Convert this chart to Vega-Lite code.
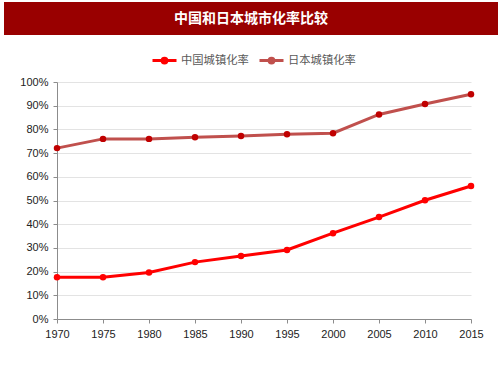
{
  "$schema": "https://vega.github.io/schema/vega-lite/v6.json",
  "padding": {"left": 4, "top": 2, "right": 5, "bottom": 5},
  "background": "white",
  "spacing": 12,
  "config": {
    "axis": {"labelFont": "Liberation Sans", "labelFontSize": 11, "labelColor": "#222222", "domainColor": "#8c8c8c", "tickColor": "#8c8c8c", "gridColor": "#e3e3e3", "title": null},
    "legend": {"labelFont": "Noto Sans CJK SC", "labelFontSize": 11.3, "labelColor": "#595959"}
  },
  "resolve": {"legend": {"color": "independent"}},
  "vconcat": [
    {
      "width": 494,
      "height": 33,
      "view": {"fill": "#990000", "stroke": null},
      "data": {"values": [{"t": "中国和日本城市化率比较"}]},
      "mark": {"type": "text", "color": "white", "fontSize": 14, "fontWeight": "bold", "font": "Noto Sans CJK SC", "baseline": "middle", "align": "center"},
      "encoding": {"text": {"field": "t"}}
    },
    {
      "resolve": {"legend": {"color": "independent"}},
      "spacing": 0,
      "hconcat": [
        {
          "width": 1,
          "height": 237,
          "view": {"stroke": null},
          "data": {"values": []},
          "mark": "point"
        },
        {
          "width": 414,
          "height": 237,
          "view": {"stroke": null},
          "data": {"values": [
            {"year": 1970, "series": "中国城镇化率", "rate": 17.6},
            {"year": 1975, "series": "中国城镇化率", "rate": 17.6},
            {"year": 1980, "series": "中国城镇化率", "rate": 19.6},
            {"year": 1985, "series": "中国城镇化率", "rate": 24.0},
            {"year": 1990, "series": "中国城镇化率", "rate": 26.6},
            {"year": 1995, "series": "中国城镇化率", "rate": 29.1},
            {"year": 2000, "series": "中国城镇化率", "rate": 36.2},
            {"year": 2005, "series": "中国城镇化率", "rate": 43.0},
            {"year": 2010, "series": "中国城镇化率", "rate": 50.1},
            {"year": 2015, "series": "中国城镇化率", "rate": 56.1},
            {"year": 1970, "series": "日本城镇化率", "rate": 72.1},
            {"year": 1975, "series": "日本城镇化率", "rate": 76.0},
            {"year": 1980, "series": "日本城镇化率", "rate": 76.0},
            {"year": 1985, "series": "日本城镇化率", "rate": 76.7},
            {"year": 1990, "series": "日本城镇化率", "rate": 77.2},
            {"year": 1995, "series": "日本城镇化率", "rate": 78.0},
            {"year": 2000, "series": "日本城镇化率", "rate": 78.4},
            {"year": 2005, "series": "日本城镇化率", "rate": 86.3},
            {"year": 2010, "series": "日本城镇化率", "rate": 90.7},
            {"year": 2015, "series": "日本城镇化率", "rate": 94.8}
          ]},
          "encoding": {
            "x": {"field": "year", "type": "quantitative", "scale": {"domain": [1970, 2015], "nice": false, "zero": false},
                  "axis": {"values": [1970, 1975, 1980, 1985, 1990, 1995, 2000, 2005, 2010, 2015], "format": "d", "grid": false, "tickSize": 4, "labelPadding": 5, "labelFlush": false}},
            "y": {"field": "rate", "type": "quantitative", "scale": {"domain": [0, 100], "nice": false},
                  "axis": {"values": [0, 10, 20, 30, 40, 50, 60, 70, 80, 90, 100], "labelExpr": "datum.value + '%'", "tickSize": 4, "labelPadding": 5, "minExtent": 52}}
          },
          "layer": [
            {
              "mark": {"type": "line", "strokeWidth": 3},
              "encoding": {
                "color": {"field": "series", "type": "nominal",
                          "scale": {"domain": ["中国城镇化率", "日本城镇化率"], "range": ["#ff0000", "#c0504d"]},
                          "legend": {"orient": "none", "legendX": 94, "legendY": -35, "direction": "horizontal", "title": null,
                                     "symbolType": "M-1,0H1M0.2,0A0.2,0.2 0 1,1 -0.2,0A0.2,0.2 0 1,1 0.2,0Z",
                                     "symbolSize": 576, "labelOffset": 3, "columnPadding": 4,
                                     "encode": {"symbols": {"update": {
                                       "fill": {"scale": "fill", "field": "value"},
                                       "stroke": {"scale": "color", "field": "value"},
                                       "strokeWidth": {"value": 3},
                                       "opacity": {"value": 1}
                                     }}}}}
              }
            },
            {
              "mark": {"type": "point", "filled": true, "size": 42, "opacity": 1},
              "encoding": {
                "fill": {"field": "series", "type": "nominal",
                         "scale": {"domain": ["中国城镇化率", "日本城镇化率"], "range": ["#ff0000", "#c00000"]},
                         "legend": null}
              }
            }
          ]
        }
      ]
    }
  ]
}
